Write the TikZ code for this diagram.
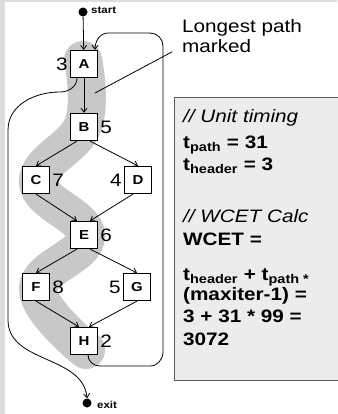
\documentclass[tikz,border=0pt]{standalone}
\usepackage{fontspec}
\setmainfont[FakeStretch=1.15]{Liberation Sans}
\usetikzlibrary{arrows.meta}
\definecolor{bggray}{HTML}{DCDCDC}
\definecolor{boxfill}{HTML}{ECECEC}
\definecolor{boxline}{HTML}{5A5A5A}
\definecolor{bandgray}{HTML}{C8C8C8}
\begin{document}
\begin{tikzpicture}[x=1pt,y=-1pt,
  blk/.style={draw,line width=1.2pt,fill=white,minimum size=27pt,inner sep=0pt,font=\fontsize{13}{13}\bfseries},
  num/.style={inner sep=0pt,font=\fontsize{18}{18}\selectfont},
  edge/.style={line width=0.8pt,-{Straight Barb[length=4pt,width=6pt]}},
  txt/.style={anchor=base west,inner sep=0pt,font=\fontsize{18}{18}\bfseries},
  itxt/.style={anchor=base west,inner sep=0pt,font=\fontsize{18}{18}\itshape},
  dot/.style={circle,fill=black,inner sep=0pt,minimum size=9pt},
  small/.style={anchor=base west,inner sep=0pt,font=\fontsize{10}{10}\bfseries},
]
\useasboundingbox (0,0) rectangle (337,414);
\fill[bggray] (0,0) rectangle (337,414);
\fill[white] (5,2) rectangle (337,414);

% highlighted path
\draw[bandgray,line width=38pt,line cap=round]
  plot[smooth,tension=0.7] coordinates {(83,60) (83,125) (38,182) (86,236) (38,289) (86,350)};

% calc box
\node[draw=boxline,fill=boxfill,line width=1.2pt,minimum width=175pt,minimum height=283pt,anchor=north west,inner sep=0pt] (calc) at (174,97) {};

% nodes
\node[dot] (start) at (83,12) {};
\node[small] (startlbl) at (91,14) {start};
\node[dot] (exit) at (87,403) {};
\node[small] (exitlbl) at (97,408) {exit};

\node[blk] (A) at (84,64) {A};
\node[blk] (B) at (84,127) {B};
\node[blk] (C) at (36,180) {C};
\node[blk] (D) at (138,180) {D};
\node[blk] (E) at (84,235) {E};
\node[blk] (F) at (36,287) {F};
\node[blk] (G) at (137,287) {G};
\node[blk] (H) at (84,341) {H};

\node[num,anchor=east] (nA) at ([xshift=-2pt]A.west) {3};
\node[num,anchor=west] (nB) at ([xshift=2pt]B.east) {5};
\node[num,anchor=west] (nC) at ([xshift=2pt]C.east) {7};
\node[num,anchor=east] (nD) at ([xshift=-2pt]D.west) {4};
\node[num,anchor=west] (nE) at ([xshift=2pt]E.east) {6};
\node[num,anchor=west] (nF) at ([xshift=2pt]F.east) {8};
\node[num,anchor=east] (nG) at ([xshift=-2pt]G.west) {5};
\node[num,anchor=west] (nH) at ([xshift=2pt]H.east) {2};

% edges
\draw[edge] (start) -- (A);
\draw[edge] (A) -- (B);
\draw[edge] ([xshift=-7pt]B.south) -- (C.north);
\draw[edge] ([xshift=6pt]B.south) -- (D.north);
\draw[edge] (C.south) -- ([xshift=-7pt]E.north);
\draw[edge] ([xshift=-5pt]D.south) -- ([xshift=6pt]E.north);
\draw[edge] ([xshift=-7pt]E.south) -- (F.north);
\draw[edge] ([xshift=6pt]E.south) -- (G.north);
\draw[edge] (F.south) -- ([xshift=-5pt]H.north);
\draw[edge] (G.south) -- ([xshift=5pt]H.north);

% loop back edge
\draw[edge] ([xshift=4pt]H.south) to[out=-90,in=180] (100,366) -- (150,366)
  to[out=0,in=-90] (163,352) -- (163,46) to[out=90,in=0] (150,33) -- (108,33)
  to[out=180,in=90] ([xshift=11pt]A.north);

% exit edge
\draw[edge] ([xshift=-7pt]A.south) to[out=-90,in=0] (60,92) to[out=180,in=90] (8,130)
  -- (8,320) to[out=-90,in=95] (exit.north);

% annotation
\node[anchor=base west,inner sep=0pt,font=\fontsize{18}{18}\selectfont] (note1) at (182,33) {Longest path};
\node[anchor=base west,inner sep=0pt,font=\fontsize{18}{18}\selectfont] (note2) at (182,53) {marked};
\coordinate (bandpt) at (95,93);
\draw[line width=0.8pt,shorten <=11pt] (note2.west) -- (bandpt);

% text in calc box
\node[itxt] (l1) at (183,123) {// Unit timing};
\node[txt] (l2) at (183,148) {t\textsubscript{path} = 31};
\node[txt] (l3) at (183,170) {t\textsubscript{header} = 3};
\node[itxt] (l4) at (183,222) {// WCET Calc};
\node[txt] (l5) at (183,245) {WCET =};
\node[txt] (l6) at (183,280) {t\textsubscript{header} + t\textsubscript{path *}};
\node[txt] (l7) at (183,300) {(maxiter-1) =};
\node[txt] (l8) at (183,322) {3 + 31 * 99 =};
\node[txt] (l9) at (183,345) {3072};
\end{tikzpicture}
\end{document}
